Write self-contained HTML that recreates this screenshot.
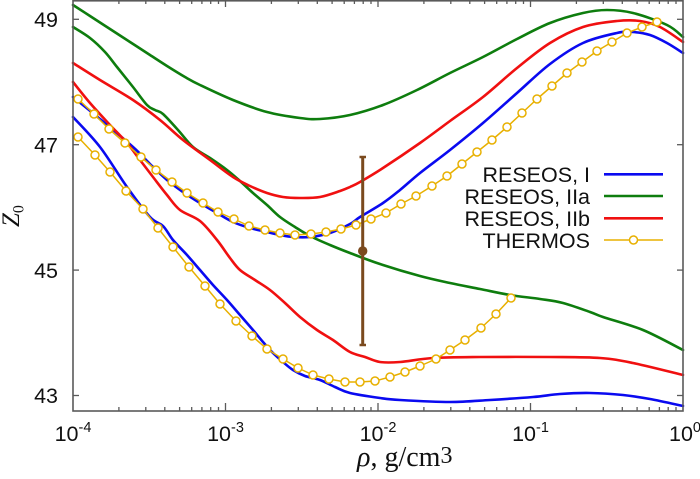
<!DOCTYPE html>
<html>
<head>
<meta charset="utf-8">
<style>
html,body{margin:0;padding:0;background:#fff;}
svg{display:block;}
</style>
</head>
<body>
<svg id="chart" width="700" height="479" viewBox="0 0 700 479" xmlns="http://www.w3.org/2000/svg">
<rect width="700" height="479" fill="#fff"/>

<!-- curves -->
<g fill="none" stroke-width="2.6" stroke-linejoin="round" stroke-linecap="round">
<!-- RESEOS I (blue) -->
<polyline class="smooth" stroke="#0a0af0" points="73,97 100,119 133,147 150,164 167,180 183,192 200,203 217,213 233,222 250,228 267,232 280,235 293,237 310,237 330,233 350,224 360,217 383,203 400,190 420,173 450,150 483,123 517,93 550,64 583,43 617,33 633,32 650,35 667,43 683,53"/>
<polyline class="smooth" stroke="#0a0af0" points="73,117 100,147 127,187 150,217 163,226 173,240 187,255 200,270 213,285 227,300 240,315 253,330 263,342 273,353 283,362 293,370 305,376 320,380 335,387 350,393 380,398 400,400 450,402 490,400 533,397 560,394 590,393 623,395 650,399 683,406"/>
<!-- RESEOS IIa (green) -->
<polyline class="smooth" stroke="#0e7d0e" points="73,5 90,16 110,29 130,42 150,55 167,66 185,77 200,85 233,100 267,112 300,118 320,119 350,115 383,105 417,90 450,73 483,57 517,39 550,23 583,13 607,10 633,13 667,25 683,37"/>
<polyline class="smooth" stroke="#0e7d0e" points="73,27 90,38 105,52 117,67 133,87 147,105 155,110 163,114 178,130 193,147 210,158 227,170 240,181 253,193 267,205 280,217 295,227 310,236 330,245 350,253 380,264 420,276 450,283 480,289 510,295 540,299 563,303 590,312 603,317 643,330 683,350"/>
<!-- RESEOS IIb (red) -->
<polyline class="smooth" stroke="#f01010" points="73,63 100,80 133,100 160,120 183,140 210,160 233,177 250,186 267,193 283,197 300,198 320,197 340,191 350,187 360,182 383,168 420,143 450,121 483,97 517,68 550,43 583,27 617,21 640,21 660,27 683,42"/>
<polyline class="smooth" stroke="#f01010" points="73,82 90,103 110,125 127,143 140,160 153,177 167,195 180,210 200,221 217,240 230,258 240,270 255,280 270,290 285,303 300,317 317,330 333,340 350,352 365,357 380,362 400,362 433,358 480,357 550,357 600,358 633,363 683,375"/>
</g>

<!-- THERMOS -->
<g fill="none" stroke="#e8b000" stroke-width="1.5" stroke-linejoin="round">
<polyline points="78,99 94,114 109,129 125,143 141,157 156,170 172,182 187,193 203,203 218,212 234,219 249,226 265,230 280,233 295,235 311,234 326,232 341,229 356,225 371,219 386,213 401,204 416,196 432,186 447,176 462,164 477,152 492,140 507,127 522,113 537,99 552,86 567,73 582,62 597,51 612,42 627,33 642,27 657,22"/>
<polyline points="78,137 95,155 110,172 126,191 143,209 158,228 173,247 189,267 205,286 220,304 236,321 252,336 267,349 283,359 298,368 313,375 329,379 345,382 360,382 375,381 390,377 405,372 420,366 436,359 450,350 465,340 481,328 496,314 511,298"/>
<g fill="#fff">
<circle cx="78" cy="99" r="4"/><circle cx="94" cy="114" r="4"/><circle cx="109" cy="129" r="4"/><circle cx="125" cy="143" r="4"/><circle cx="141" cy="157" r="4"/><circle cx="156" cy="170" r="4"/><circle cx="172" cy="182" r="4"/><circle cx="187" cy="193" r="4"/><circle cx="203" cy="203" r="4"/><circle cx="218" cy="212" r="4"/><circle cx="234" cy="219" r="4"/><circle cx="249" cy="226" r="4"/><circle cx="265" cy="230" r="4"/><circle cx="280" cy="233" r="4"/><circle cx="295" cy="235" r="4"/><circle cx="311" cy="234" r="4"/><circle cx="326" cy="232" r="4"/><circle cx="341" cy="229" r="4"/><circle cx="356" cy="225" r="4"/><circle cx="371" cy="219" r="4"/><circle cx="386" cy="213" r="4"/><circle cx="401" cy="204" r="4"/><circle cx="416" cy="196" r="4"/><circle cx="432" cy="186" r="4"/><circle cx="447" cy="176" r="4"/><circle cx="462" cy="164" r="4"/><circle cx="477" cy="152" r="4"/><circle cx="492" cy="140" r="4"/><circle cx="507" cy="127" r="4"/><circle cx="522" cy="113" r="4"/><circle cx="537" cy="99" r="4"/><circle cx="552" cy="86" r="4"/><circle cx="567" cy="73" r="4"/><circle cx="582" cy="62" r="4"/><circle cx="597" cy="51" r="4"/><circle cx="612" cy="42" r="4"/><circle cx="627" cy="33" r="4"/><circle cx="642" cy="27" r="4"/><circle cx="657" cy="22" r="4"/>
<circle cx="78" cy="137" r="4"/><circle cx="95" cy="155" r="4"/><circle cx="110" cy="172" r="4"/><circle cx="126" cy="191" r="4"/><circle cx="143" cy="209" r="4"/><circle cx="158" cy="228" r="4"/><circle cx="173" cy="247" r="4"/><circle cx="189" cy="267" r="4"/><circle cx="205" cy="286" r="4"/><circle cx="220" cy="304" r="4"/><circle cx="236" cy="321" r="4"/><circle cx="252" cy="336" r="4"/><circle cx="267" cy="349" r="4"/><circle cx="283" cy="359" r="4"/><circle cx="298" cy="368" r="4"/><circle cx="313" cy="375" r="4"/><circle cx="329" cy="379" r="4"/><circle cx="345" cy="382" r="4"/><circle cx="360" cy="382" r="4"/><circle cx="375" cy="381" r="4"/><circle cx="390" cy="377" r="4"/><circle cx="405" cy="372" r="4"/><circle cx="420" cy="366" r="4"/><circle cx="436" cy="359" r="4"/><circle cx="450" cy="350" r="4"/><circle cx="465" cy="340" r="4"/><circle cx="481" cy="328" r="4"/><circle cx="496" cy="314" r="4"/><circle cx="511" cy="298" r="4"/>
</g>
</g>

<!-- error bar -->
<g stroke="#7b4a1e" fill="#7b4a1e">
<line x1="362.7" y1="157" x2="362.7" y2="345" stroke-width="3"/>
<line x1="359.5" y1="157" x2="366" y2="157" stroke-width="2.5"/>
<line x1="359.5" y1="345" x2="366" y2="345" stroke-width="2.5"/>
<circle cx="362.7" cy="251" r="4.7" stroke="none"/>
</g>

<!-- axes frame -->
<g stroke="#5a5a5a" stroke-width="1.6" fill="none">
<rect x="73" y="0.8" width="610" height="410.2"/>
</g>
<g stroke="#5a5a5a" stroke-width="1.3">
<line x1="73" y1="19.3" x2="79" y2="19.3"/><line x1="73" y1="144.7" x2="79" y2="144.7"/><line x1="73" y1="270.1" x2="79" y2="270.1"/><line x1="73" y1="395.5" x2="79" y2="395.5"/>
<line x1="683" y1="19.3" x2="677" y2="19.3"/><line x1="683" y1="144.7" x2="677" y2="144.7"/><line x1="683" y1="270.1" x2="677" y2="270.1"/><line x1="683" y1="395.5" x2="677" y2="395.5"/>
<line x1="225.5" y1="411" x2="225.5" y2="403"/><line x1="378" y1="411" x2="378" y2="403"/><line x1="530.5" y1="411" x2="530.5" y2="403"/>
<line x1="225.5" y1="0" x2="225.5" y2="7"/><line x1="378" y1="0" x2="378" y2="7"/><line x1="530.5" y1="0" x2="530.5" y2="7"/>
<g>
<line x1="118.9" y1="411" x2="118.9" y2="407"/><line x1="145.8" y1="411" x2="145.8" y2="407"/><line x1="164.8" y1="411" x2="164.8" y2="407"/><line x1="179.6" y1="411" x2="179.6" y2="407"/><line x1="191.7" y1="411" x2="191.7" y2="407"/><line x1="201.9" y1="411" x2="201.9" y2="407"/><line x1="210.7" y1="411" x2="210.7" y2="407"/><line x1="218.5" y1="411" x2="218.5" y2="407"/>
<line x1="271.4" y1="411" x2="271.4" y2="407"/><line x1="298.3" y1="411" x2="298.3" y2="407"/><line x1="317.3" y1="411" x2="317.3" y2="407"/><line x1="332.1" y1="411" x2="332.1" y2="407"/><line x1="344.2" y1="411" x2="344.2" y2="407"/><line x1="354.4" y1="411" x2="354.4" y2="407"/><line x1="363.2" y1="411" x2="363.2" y2="407"/><line x1="371" y1="411" x2="371" y2="407"/>
<line x1="423.9" y1="411" x2="423.9" y2="407"/><line x1="450.8" y1="411" x2="450.8" y2="407"/><line x1="469.8" y1="411" x2="469.8" y2="407"/><line x1="484.6" y1="411" x2="484.6" y2="407"/><line x1="496.7" y1="411" x2="496.7" y2="407"/><line x1="506.9" y1="411" x2="506.9" y2="407"/><line x1="515.7" y1="411" x2="515.7" y2="407"/><line x1="523.5" y1="411" x2="523.5" y2="407"/>
<line x1="576.4" y1="411" x2="576.4" y2="407"/><line x1="603.3" y1="411" x2="603.3" y2="407"/><line x1="622.3" y1="411" x2="622.3" y2="407"/><line x1="637.1" y1="411" x2="637.1" y2="407"/><line x1="649.2" y1="411" x2="649.2" y2="407"/><line x1="659.4" y1="411" x2="659.4" y2="407"/><line x1="668.2" y1="411" x2="668.2" y2="407"/><line x1="676" y1="411" x2="676" y2="407"/>
</g>
<g>
<line x1="118.9" y1="0" x2="118.9" y2="4"/><line x1="145.8" y1="0" x2="145.8" y2="4"/><line x1="164.8" y1="0" x2="164.8" y2="4"/><line x1="179.6" y1="0" x2="179.6" y2="4"/><line x1="191.7" y1="0" x2="191.7" y2="4"/><line x1="201.9" y1="0" x2="201.9" y2="4"/><line x1="210.7" y1="0" x2="210.7" y2="4"/><line x1="218.5" y1="0" x2="218.5" y2="4"/>
<line x1="271.4" y1="0" x2="271.4" y2="4"/><line x1="298.3" y1="0" x2="298.3" y2="4"/><line x1="317.3" y1="0" x2="317.3" y2="4"/><line x1="332.1" y1="0" x2="332.1" y2="4"/><line x1="344.2" y1="0" x2="344.2" y2="4"/><line x1="354.4" y1="0" x2="354.4" y2="4"/><line x1="363.2" y1="0" x2="363.2" y2="4"/><line x1="371" y1="0" x2="371" y2="4"/>
<line x1="423.9" y1="0" x2="423.9" y2="4"/><line x1="450.8" y1="0" x2="450.8" y2="4"/><line x1="469.8" y1="0" x2="469.8" y2="4"/><line x1="484.6" y1="0" x2="484.6" y2="4"/><line x1="496.7" y1="0" x2="496.7" y2="4"/><line x1="506.9" y1="0" x2="506.9" y2="4"/><line x1="515.7" y1="0" x2="515.7" y2="4"/><line x1="523.5" y1="0" x2="523.5" y2="4"/>
<line x1="576.4" y1="0" x2="576.4" y2="4"/><line x1="603.3" y1="0" x2="603.3" y2="4"/><line x1="622.3" y1="0" x2="622.3" y2="4"/><line x1="637.1" y1="0" x2="637.1" y2="4"/><line x1="649.2" y1="0" x2="649.2" y2="4"/><line x1="659.4" y1="0" x2="659.4" y2="4"/><line x1="668.2" y1="0" x2="668.2" y2="4"/><line x1="676" y1="0" x2="676" y2="4"/>
</g>
</g>

<!-- y tick labels -->
<g font-family="Liberation Sans, Arial, sans-serif" font-size="21.5" fill="#111" text-anchor="end">
<text x="58" y="27">49</text>
<text x="58" y="152.4">47</text>
<text x="58" y="277.8">45</text>
<text x="58" y="403.2">43</text>
</g>

<!-- x tick labels -->
<g font-family="Liberation Sans, Arial, sans-serif" font-size="21.5" fill="#111" text-anchor="middle">
<text x="73" y="441">10<tspan font-size="14.5" dy="-9">-4</tspan></text>
<text x="225.5" y="441">10<tspan font-size="14.5" dy="-9">-3</tspan></text>
<text x="378" y="441">10<tspan font-size="14.5" dy="-9">-2</tspan></text>
<text x="530.5" y="441">10<tspan font-size="14.5" dy="-9">-1</tspan></text>
<text x="685" y="441">10<tspan font-size="14.5" dy="-9">0</tspan></text>
</g>

<!-- axis titles -->
<text x="357" y="466" font-family="Liberation Serif, Times New Roman, serif" font-size="28" fill="#111"><tspan font-style="italic">ρ</tspan>, g/cm<tspan font-size="24" dy="-3">3</tspan></text>
<text transform="translate(19,227) rotate(-90)" font-family="Liberation Serif, Times New Roman, serif" font-size="25" fill="#111"><tspan font-style="italic">Z</tspan><tspan font-size="16" dy="4.5">0</tspan></text>

<!-- legend -->
<g font-family="Liberation Sans, Arial, sans-serif" font-size="21.5" fill="#111" text-anchor="end">
<text x="590" y="182">RESEOS, I</text>
<text x="590" y="203.8">RESEOS, IIa</text>
<text x="590" y="226">RESEOS, IIb</text>
<text x="590" y="247.8">THERMOS</text>
</g>
<g stroke-width="2.6" fill="none">
<line x1="604" y1="174.3" x2="663" y2="174.3" stroke="#0a0af0"/>
<line x1="604" y1="196" x2="663" y2="196" stroke="#0e7d0e"/>
<line x1="604" y1="218.3" x2="663" y2="218.3" stroke="#f01010"/>
<line x1="604" y1="240" x2="663" y2="240" stroke="#e8b000" stroke-width="1.5"/>
<circle cx="633.5" cy="240" r="4" stroke="#e8b000" stroke-width="1.5" fill="#fff"/>
</g>
</svg>
<script>
(function(){
  var ns="http://www.w3.org/2000/svg";
  var pls=document.querySelectorAll('polyline.smooth');
  for(var i=0;i<pls.length;i++){
    var pl=pls[i];
    var raw=pl.getAttribute('points').trim().split(/\s+/);
    var p=raw.map(function(s){var a=s.split(',');return [parseFloat(a[0]),parseFloat(a[1])];});
    if(p.length<3) continue;
    var d='M'+p[0][0]+','+p[0][1];
    for(var k=0;k<p.length-1;k++){
      var p0=p[k>0?k-1:0],p1=p[k],p2=p[k+1],p3=p[k+2<p.length?k+2:p.length-1];
      var c1x=p1[0]+(p2[0]-p0[0])/6,c1y=p1[1]+(p2[1]-p0[1])/6;
      var c2x=p2[0]-(p3[0]-p1[0])/6,c2y=p2[1]-(p3[1]-p1[1])/6;
      d+=' C'+c1x.toFixed(2)+','+c1y.toFixed(2)+' '+c2x.toFixed(2)+','+c2y.toFixed(2)+' '+p2[0]+','+p2[1];
    }
    var path=document.createElementNS(ns,'path');
    path.setAttribute('d',d);
    path.setAttribute('stroke',pl.getAttribute('stroke'));
    path.setAttribute('fill','none');
    pl.parentNode.replaceChild(path,pl);
  }
})();
</script>
</body>
</html>
